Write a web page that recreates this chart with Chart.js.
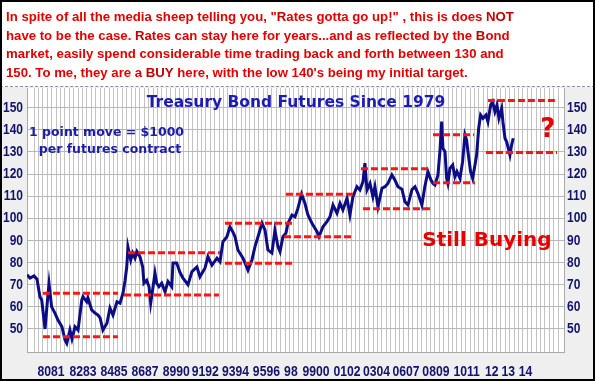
<!DOCTYPE html>
<html>
<head>
<meta charset="utf-8">
<script src="https://cdn.jsdelivr.net/npm/chart.js@4/dist/chart.umd.min.js"></script>
<style>
  body { margin: 0; background: #fff; }
  #frame { position: relative; width: 595px; height: 381px; overflow: hidden; background: #fff; }
  #plot { position: absolute; left: 0; top: 0; width: 595px; height: 381px; }
  #note {
    position: absolute; left: 6px; top: 8px; width: 585px; z-index: 2;
    font: bold 13.2px 'Liberation Sans', Arial, sans-serif; line-height: 18.7px;
    color: #e30000; white-space: nowrap;
  }
  #note b { color: #c40000; }
  #sep { position: absolute; left: 0; top: 86px; width: 595px; border-top: 1px dashed #8a8aa8; z-index: 2; }
  #edge { position: absolute; left: 0; top: 0; width: 595px; height: 381px; box-sizing: border-box; border: 2px solid #000; pointer-events: none; z-index: 3; }
</style>
</head>
<body>
<div id="frame">
  <div id="plot"><canvas id="chart"></canvas></div>
  <div id="note">
    In spite of all the media sheep telling you, "<b>R</b>ates gotta go up!" , this is does <b>NOT</b><br>
    have to be the case. <b>R</b>ates can stay here for years...and as reflected by the <b>B</b>ond<br>
    market, easily spend considerable time trading back and forth between 130 and<br>
    150. To me, they are a <b>BUY</b> here, with the low 140's being my initial target.
  </div>
  <div id="sep"></div>
  <div id="edge"></div>
</div>
<script>
// closes (decimal year, price)
const years = [1979.00, 1979.22, 1979.51, 1979.73, 1979.94, 1980.07, 1980.31, 1980.53, 1980.60, 1980.79,
  1981.03, 1981.25, 1981.54, 1981.76, 1981.89, 1982.12, 1982.27, 1982.49, 1982.71, 1982.98,
  1983.07, 1983.34, 1983.43, 1983.70, 1983.94, 1984.16, 1984.31, 1984.52, 1984.81, 1985.03,
  1985.25, 1985.54, 1985.76, 1985.98, 1986.13, 1986.25, 1986.34, 1986.54, 1986.68, 1986.85,
  1986.99, 1987.21, 1987.41, 1987.50, 1987.70, 1987.87, 1987.99, 1988.13, 1988.30, 1988.43,
  1988.59, 1988.79, 1989.03, 1989.25, 1989.52, 1989.61, 1989.88, 1990.12, 1990.34, 1990.70,
  1990.99, 1991.35, 1991.57, 1991.94, 1992.15, 1992.44, 1992.81, 1993.03, 1993.24, 1993.53,
  1993.75, 1993.95, 1994.12, 1994.33, 1994.70, 1995.06, 1995.35, 1995.57, 1995.79, 1996.08,
  1996.30, 1996.51, 1996.80, 1997.02, 1997.24, 1997.39, 1997.60, 1997.82, 1997.97, 1998.26,
  1998.48, 1998.69, 1998.96, 1999.20, 1999.42, 1999.71, 2000.08, 2000.22, 2000.51, 2000.80,
  2001.02, 2001.24, 2001.53, 2001.75, 2001.96, 2002.26, 2002.47, 2002.69, 2002.98, 2003.20,
  2003.42, 2003.56, 2003.71, 2003.93, 2004.14, 2004.29, 2004.51, 2004.80, 2005.02, 2005.23,
  2005.52, 2005.74, 2005.96, 2006.25, 2006.47, 2006.69, 2006.98, 2007.20, 2007.41, 2007.70,
  2007.92, 2008.14, 2008.36, 2008.51, 2008.65, 2008.87, 2009.01, 2009.14, 2009.23, 2009.38,
  2009.50, 2009.59, 2009.74, 2009.94, 2010.10, 2010.25, 2010.47, 2010.66, 2010.83, 2010.95,
  2011.05, 2011.24, 2011.39, 2011.56, 2011.68, 2011.83, 2011.97, 2012.14, 2012.36, 2012.50,
  2012.70, 2012.84, 2013.01, 2013.16, 2013.30, 2013.50, 2013.59, 2013.74, 2013.86, 2013.98,
  2014.10, 2014.22, 2014.34];
const prices = [74.5, 73, 74, 72.5, 64.6, 63.1, 50, 66, 70.5, 60,
  57.2, 54, 51, 45, 43.5, 49.5, 45.5, 51, 49.5, 63,
  64.6, 62.3, 64, 58.6, 57.2, 56.3, 55, 49.5, 52.6, 59.5,
  56.3, 62.3, 61.7, 66.3, 72, 78, 87, 81.2, 84.3, 82,
  85, 82.7, 78, 70.7, 72, 69.1, 61.7, 67.6, 75.3, 70.7,
  69.1, 70.7, 66.9, 71.4, 69.1, 79.8, 79.8, 75.5, 73, 70,
  75.9, 78, 73.6, 77.6, 82.7, 78.9, 82, 80.4, 89.4, 91.7,
  96.2, 94, 91.7, 85.7, 82, 76.6, 81.2, 87.2, 91.7, 97.8,
  94.7, 85.7, 84.3, 94.7, 87.2, 84.9, 91.7, 93.3, 97.8, 101.5,
  100.7, 104.5, 111, 106.8, 101.5, 97.8, 94, 91.7, 96.2, 98.5,
  100.7, 106, 102.3, 106.8, 103.8, 109.1, 101.5, 109.8, 114.3, 112.8,
  116.6, 124.9, 112.8, 115.8, 109.8, 114.3, 105.3, 113.6, 114.3, 115.8,
  119.6, 117.3, 114.3, 113.2, 107.5, 106, 113, 114.3, 111.3, 106,
  114.5, 121.1, 117.3, 115.8, 115.1, 119.6, 130.1, 143.7, 131.7, 130.1,
  118.1, 115.8, 122.6, 124.1, 118.8, 121.1, 118.1, 125.6, 137.7, 135.4,
  130.1, 121.1, 118.1, 124.1, 128.6, 140.7, 146.7, 145.2, 146.7, 143.7,
  151.2, 152.7, 148.2, 151.2, 145.2, 149.7, 143.7, 136.2, 134.6, 131.7,
  128.6, 133.1, 136.2];

// red dashed trading ranges: start year, end year, level
const levelStart = [1980.16, 1980.16, 1986.34, 1986.05, 1993.39, 1993.39, 1997.82, 1997.68, 2003.27, 2003.42, 2008.51, 2008.51, 2012.50, 2012.36];
const levelEnd   = [1985.61, 1985.61, 1993.03, 1992.95, 1998.40, 1998.33, 2002.84, 2002.77, 2008.36, 2008.43, 2011.49, 2011.56, 2017.59, 2017.52];
const levelValue = [66.1, 46.5, 84.5, 65.4, 97.8, 79.7, 110.9, 91.7, 122.4, 104.3, 137.8, 116.1, 153.2, 129.7];

const xTickLabels = ['8081', '8283', '8485', '8687', '8990', '9192', '9394', '9596', '98', '9900', '0102', '0304', '0607', '0809', '1011', '12', '13', '14'];
const xTickYears  = [1980.74, 1983.07, 1985.32, 1987.58, 1989.85, 1991.95, 1994.15, 1996.40, 1998.18, 2000.00, 2002.26, 2004.40, 2006.55, 2008.72, 2010.95, 2012.78, 2013.98, 2015.23];
const yTickValues = [50, 60, 70, 80, 90, 100, 110, 120, 130, 140, 150];

const arial = "'Liberation Sans', Arial, sans-serif";
const dejavu = "'DejaVu Sans', Verdana, sans-serif";
const axisInk = '#13136e';

const notes = [
  { text: 'Treasury Bond Futures Since 1979', x: 1998.55, y: 152.2, font: 'bold 15.5px ' + dejavu, color: '#1c1cb4' },
  { text: '1 point move = $1000', x: 1984.78, y: 138.6, font: 'bold 12.5px ' + dejavu, color: '#1c1ca8' },
  { text: 'per futures contract', x: 1985.03, y: 130.9, font: 'bold 12.5px ' + dejavu, color: '#1c1ca8' },
  { text: 'Still Buying', x: 2012.43, y: 89.8, font: 'bold 20px ' + dejavu, color: '#e80000' },
  { text: '?', x: 2016.86, y: 140.0, font: 'bold 26px ' + dejavu, color: '#e80000' }
];

// gray panel under the plot, white plot area
const panel = {
  id: 'panel',
  beforeDraw(chart) {
    const { ctx, chartArea: a, width, height } = chart;
    ctx.save();
    ctx.fillStyle = '#efefef';
    ctx.fillRect(0, 87, width, height - 87);
    ctx.fillStyle = '#fff';
    ctx.fillRect(a.left, a.top, a.right - a.left, a.bottom - a.top);
    ctx.restore();
  }
};

const textNotes = {
  id: 'textNotes',
  afterDatasetsDraw(chart) {
    const { ctx, scales } = chart;
    ctx.save();
    ctx.textAlign = 'center';
    ctx.textBaseline = 'middle';
    notes.forEach(n => {
      ctx.font = n.font;
      ctx.fillStyle = n.color;
      ctx.fillText(n.text, scales.x.getPixelForValue(n.x), scales.y.getPixelForValue(n.y));
    });
    ctx.restore();
  }
};

// tick labels in a squeezed bold face, like the original narrow font
const narrowTicks = {
  id: 'narrowTicks',
  afterDraw(chart) {
    const { ctx, scales } = chart;
    const put = (text, x, y, align, sx) => {
      ctx.save();
      ctx.translate(x, y);
      ctx.scale(sx, 1);
      ctx.textAlign = align;
      ctx.fillText(text, 0, 0);
      ctx.restore();
    };
    ctx.save();
    ctx.fillStyle = axisInk;
    ctx.textBaseline = 'middle';
    ctx.font = 'bold 15px ' + arial;
    yTickValues.forEach(v => {
      const py = scales.y.getPixelForValue(v);
      put(String(v), scales.y.right - 4, py, 'right', 0.8);
      put(String(v), scales.y2.left + 3, py, 'left', 0.8);
    });
    ctx.font = 'bold 14.5px ' + arial;
    xTickYears.forEach((v, i) => {
      put(xTickLabels[i], scales.xl.getPixelForValue(v), scales.xl.top + 19.5, 'center', 0.84);
    });
    ctx.restore();
  }
};

const datasets = levelValue.map((v, i) => ({
  data: [{ x: levelStart[i], y: v }, { x: levelEnd[i], y: v }],
  borderColor: '#ff1414',
  borderWidth: 3,
  borderDash: [7, 3],
  pointRadius: 0,
  order: 1
}));
datasets.push({
  data: years.map((x, i) => ({ x, y: prices[i] })),
  borderColor: '#0c0c84',
  borderWidth: 3,
  pointRadius: 0,
  tension: 0,
  order: 2
});

const yMin = 39.6, yMax = 158.9, xMin = 1979, xMax = 2018.03;
const noPad = s => { s.paddingTop = 0; s.paddingBottom = 0; s.paddingLeft = 0; s.paddingRight = 0; };

new Chart(document.getElementById('chart'), {
  type: 'line',
  data: { datasets },
  plugins: [panel, textNotes, narrowTicks],
  options: {
    responsive: true,
    maintainAspectRatio: false,
    animation: false,
    layout: { padding: { top: 88, left: 0, right: 0, bottom: 0 } },
    plugins: { legend: { display: false }, tooltip: { enabled: false } },
    scales: {
      x: {
        type: 'linear', position: 'bottom', min: xMin, max: xMax, weight: 0,
        grid: { color: '#c2c2c2', drawTicks: false },
        border: { color: '#a8a8a8' },
        ticks: { display: false, stepSize: 0.32, autoSkip: false },
        afterFit: s => { s.height = 0; noPad(s); }
      },
      xl: {
        type: 'linear', position: 'bottom', min: xMin, max: xMax, weight: 1,
        grid: { display: false, drawTicks: false },
        border: { display: false },
        afterBuildTicks: s => { s.ticks = xTickYears.map(v => ({ value: v })); },
        ticks: { display: false, autoSkip: false },
        afterFit: s => { s.height = 29; noPad(s); }
      },
      y: {
        position: 'left', min: yMin, max: yMax,
        afterBuildTicks: s => { s.ticks = yTickValues.map(v => ({ value: v })); },
        grid: { color: '#b8b8b8', drawTicks: false },
        border: { color: '#a8a8a8' },
        ticks: { display: false },
        afterFit: s => { s.width = 27; noPad(s); }
      },
      y2: {
        position: 'right', min: yMin, max: yMax,
        afterBuildTicks: s => { s.ticks = yTickValues.map(v => ({ value: v })); },
        grid: { display: false, drawTicks: false },
        border: { color: '#a8a8a8' },
        ticks: { display: false },
        afterFit: s => { s.width = 31; noPad(s); }
      }
    }
  }
});
</script>
</body>
</html>
